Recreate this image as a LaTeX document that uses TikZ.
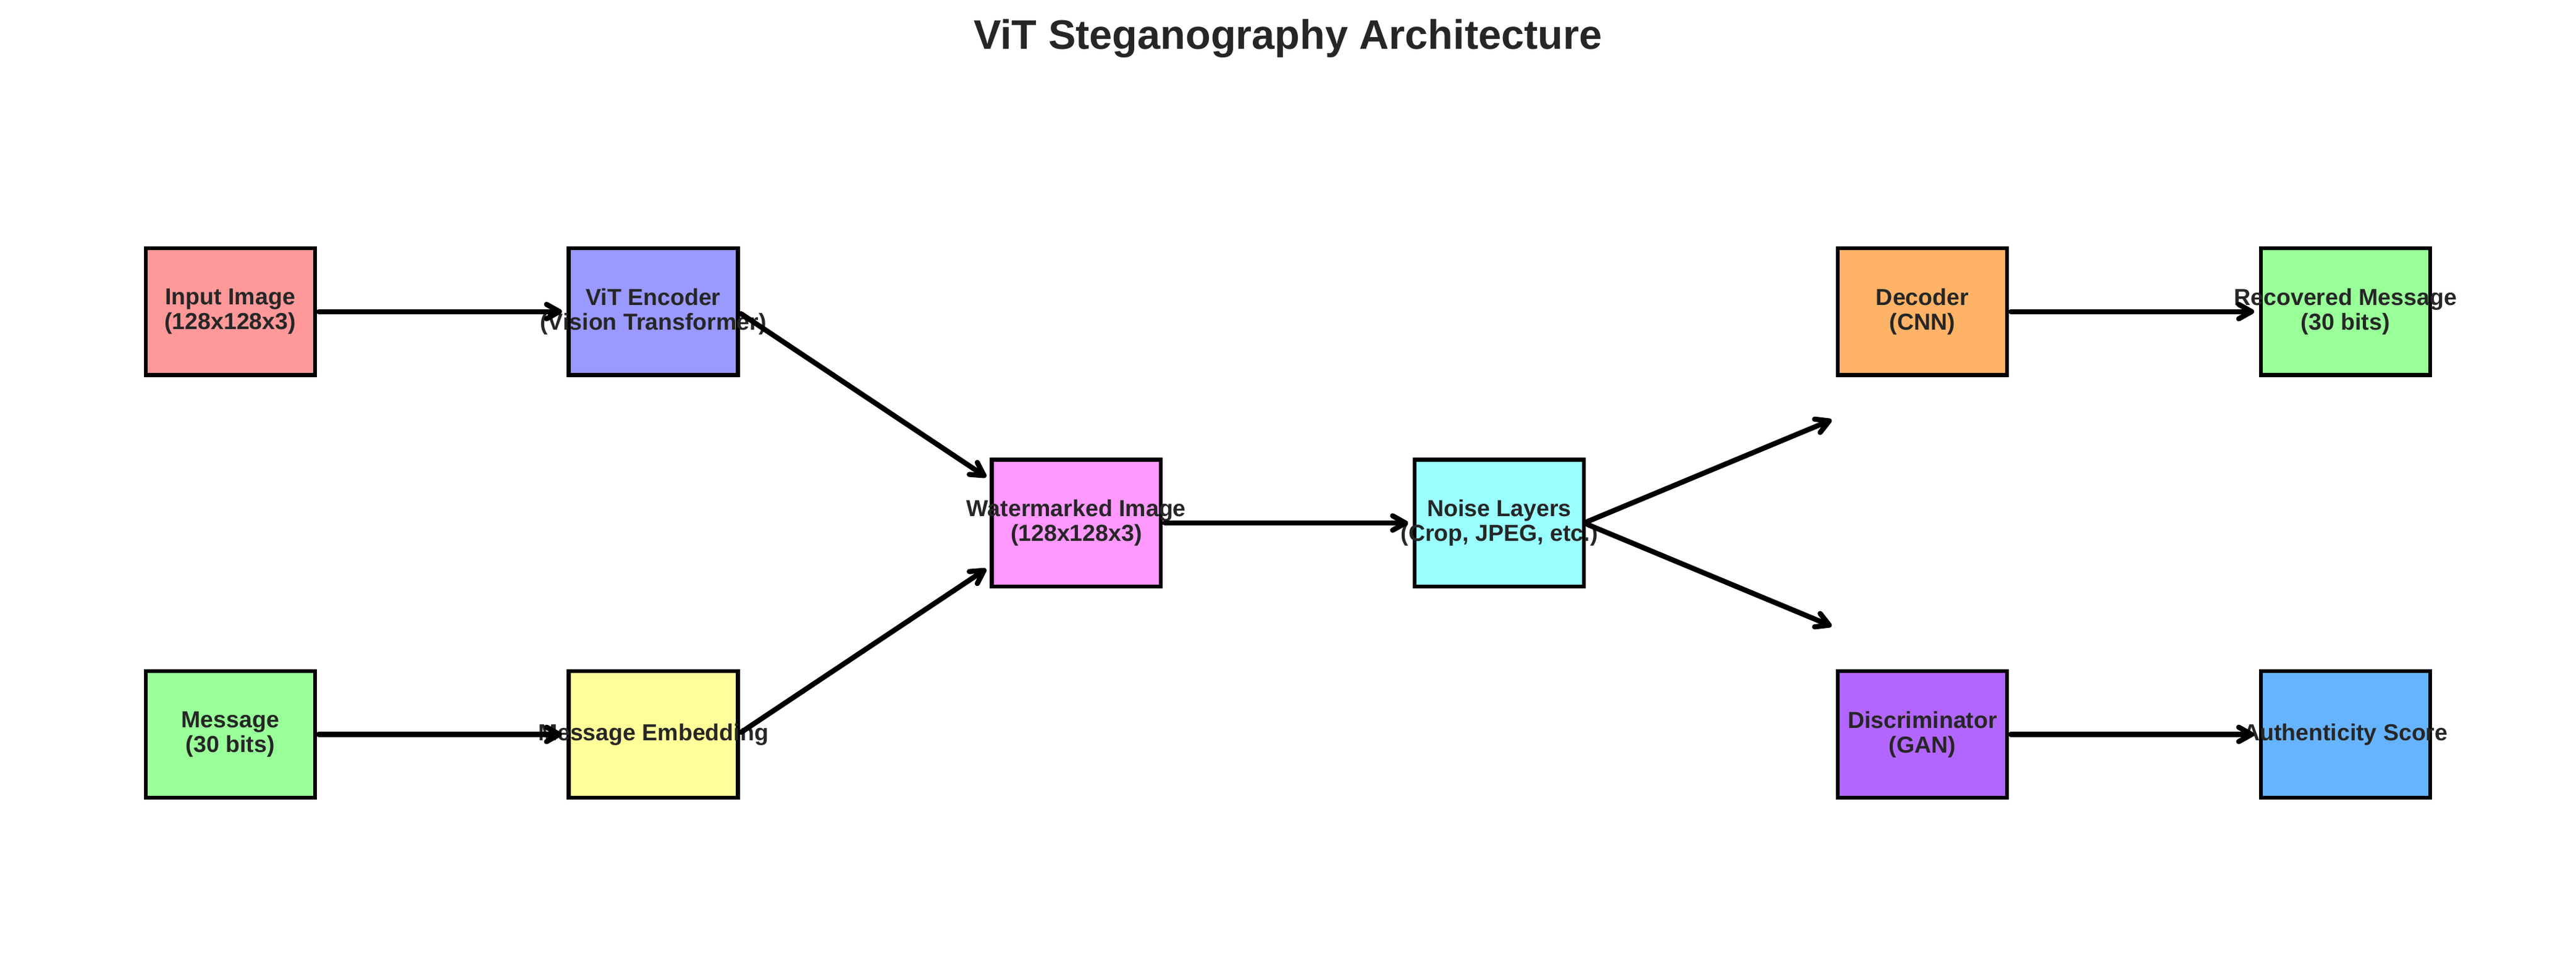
\documentclass[tikz,border=0pt]{standalone}
\usepackage{fontspec}
\setmainfont{Liberation Sans}
\usetikzlibrary{arrows.meta,calc}
\definecolor{txt}{HTML}{262626}
\definecolor{inpc}{HTML}{FF9999}
\definecolor{vitc}{HTML}{9999FF}
\definecolor{wmc}{HTML}{FF99FF}
\definecolor{noisec}{HTML}{99FFFF}
\definecolor{decc}{HTML}{FFB366}
\definecolor{recc}{HTML}{99FF99}
\definecolor{msgc}{HTML}{99FF99}
\definecolor{embc}{HTML}{FFFF99}
\definecolor{discc}{HTML}{B366FF}
\definecolor{authc}{HTML}{66B3FF}
\begin{document}
\begin{tikzpicture}[x=2.8882cm,y=2.8882cm,
  blk/.style={rectangle,draw=black,line width=1.5pt,minimum width=2.3106cm,minimum height=1.7329cm,inner sep=0pt,outer sep=0pt},
  lbl/.style={align=center,text=txt,font=\fontsize{9}{9.6}\selectfont\bfseries,inner sep=0pt},
  arr/.style={line width=2pt,-{Straight Barb[length=5pt,width=5.6pt,round]},shorten >=2.6pt,shorten <=1.5pt,line cap=round}]
\path[fill=white,use as bounding box] (-0.0885,-2.088) rectangle (12.090,2.474);
\node[anchor=base,font=\fontsize{16}{19}\selectfont\bfseries,text=txt,inner sep=0pt] (title) at (6,2.243) {ViT Steganography Architecture};
% boxes
\node[blk,fill=inpc] (inp) at (1,1) {};
\node[blk,fill=vitc] (vit) at (3,1) {};
\node[blk,fill=msgc] (msg) at (1,-1) {};
\node[blk,fill=embc] (emb) at (3,-1) {};
\node[blk,fill=wmc] (wm) at (5,0) {};
\node[blk,fill=noisec] (noise) at (7,0) {};
\node[blk,fill=decc] (dec) at (9,1) {};
\node[blk,fill=recc] (rec) at (11,1) {};
\node[blk,fill=discc] (disc) at (9,-1) {};
\node[blk,fill=authc] (auth) at (11,-1) {};
% labels
\node[lbl] (inpT) at (inp.center) {Input Image\\(128x128x3)};
\node[lbl] (vitT) at (vit.center) {ViT Encoder\\(Vision Transformer)};
\node[lbl] (msgT) at (msg.center) {Message\\(30 bits)};
\node[lbl] (embT) at (emb.center) {Message Embedding};
\node[lbl] (wmT) at (wm.center) {Watermarked Image\\(128x128x3)};
\node[lbl] (noiseT) at (noise.center) {Noise Layers\\(Crop, JPEG, etc.)};
\node[lbl] (decT) at (dec.center) {Decoder\\(CNN)};
\node[lbl] (recT) at (rec.center) {Recovered Message\\(30 bits)};
\node[lbl] (discT) at (disc.center) {Discriminator\\(GAN)};
\node[lbl] (authT) at (auth.center) {Authenticity Score};
% free ends
\coordinate (decin) at (8.6,0.5);
\coordinate (discin) at (8.6,-0.5);
\coordinate (wmin1) at ($(wm.west)+(0,0.2)$);
\coordinate (wmin2) at ($(wm.west)+(0,-0.2)$);
% arrows
\draw[arr] (inp.east) -- (vit.west);
\draw[arr] (msg.east) -- (emb.west);
\draw[arr] (vit.east) -- (wmin1);
\draw[arr] (emb.east) -- (wmin2);
\draw[arr] (wm.east) -- (noise.west);
\draw[arr] (noise.east) -- (decin);
\draw[arr] (noise.east) -- (discin);
\draw[arr] (dec.east) -- (rec.west);
\draw[arr] (disc.east) -- (auth.west);
\end{tikzpicture}
\end{document}
